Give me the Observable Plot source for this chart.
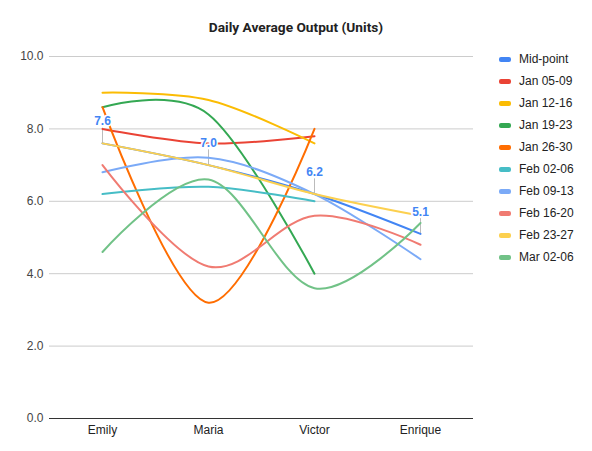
<!DOCTYPE html>
<html>
<head>
<meta charset="utf-8">
<script src="https://cdn.jsdelivr.net/npm/d3@7"></script>
<script src="https://cdn.jsdelivr.net/npm/@observablehq/plot@0.6"></script>
<style>
  body { margin: 0; background: #fff; }
  #wrap { position: relative; width: 592px; height: 451px; }
  #title {
    position: absolute; left: 0; top: 19px; width: 592px; text-align: center;
    font: bold 13.7px Roboto, sans-serif; color: #222;
  }
  #legend { position: absolute; left: 499px; top: 48px; font: 12px "Liberation Sans", Arial, sans-serif; color: #222; }
  #legend div { height: 22px; display: flex; align-items: center; }
  #legend span.sw { display: inline-block; width: 12px; height: 5px; border-radius: 2px; margin-right: 8px; }
  #vis { position: absolute; left: 0; top: 0; }
</style>
</head>
<body>
<div id="wrap">
  <div id="vis"></div>
  <div id="title">Daily Average Output (Units)</div>
  <div id="legend"></div>
</div>
<script>
const people = ["Emily", "Maria", "Victor", "Enrique"]
const seriesNames = ["Mid-point", "Jan 05-09", "Jan 12-16", "Jan 19-23", "Jan 26-30",
  "Feb 02-06", "Feb 09-13", "Feb 16-20", "Feb 23-27", "Mar 02-06"]
const seriesColors = ["#4285F4", "#EA4335", "#FBBC04", "#34A853", "#FF6D01",
  "#46BDC6", "#7BAAF7", "#F07B72", "#FCD04F", "#71C287"]
// one row per series, one value per person (null = no value)
const midpoint = [7.6, 7.0, 6.2, 5.1]
const jan0509 = [8.0, 7.6, 7.8, null]
const jan1216 = [9.0, 8.8, 7.6, null]
const jan1923 = [8.6, 8.4, 4.0, null]
const jan2630 = [8.6, 3.2, 8.0, null]
const feb0206 = [6.2, 6.4, 6.0, null]
const feb0913 = [6.8, 7.2, 6.2, 4.4]
const feb1620 = [7.0, 4.2, 5.6, 4.8]
const feb2327 = [7.6, 7.0, 6.2, 5.6]
const mar0206 = [4.6, 6.6, 3.6, 5.4]
const yTicks = [0, 2, 4, 6, 8, 10]

const allSeries = [midpoint, jan0509, jan1216, jan1923, jan2630, feb0206, feb0913, feb1620, feb2327, mar0206]

const rows = []
allSeries.forEach((vals, i) => {
  vals.forEach((v, j) => {
    if (v != null) rows.push({series: seriesNames[i], person: people[j], value: v})
  })
})
const midRows = rows.filter(d => d.series === "Mid-point")

const chart = Plot.plot({
  width: 592,
  height: 451,
  marginTop: 56,
  marginBottom: 33,
  marginLeft: 49,
  marginRight: 119,
  x: {type: "point", domain: people, padding: 0.5, label: null},
  y: {domain: [0, 10], label: null},
  color: {domain: seriesNames, range: seriesColors},
  style: {fontFamily: "'Liberation Sans', Arial, sans-serif", fontSize: "12px", color: "#444", background: "transparent"},
  marks: [
    Plot.gridY(yTicks, {stroke: "#cccccc", strokeOpacity: 1}),
    Plot.axisY(yTicks, {tickSize: 0, tickPadding: 6, tickFormat: d3.format(".1f"), fill: "#444", label: null}),
    Plot.axisX({tickSize: 0, tickPadding: 7, fill: "#222", label: null}),
    Plot.ruleX(midRows, {x: "person", y1: "value", y2: d => d.value + 0.42, stroke: "#bbbbbb", strokeWidth: 1}),
    Plot.line(rows, {x: "person", y: "value", z: "series", stroke: "series", strokeWidth: 2, curve: "cardinal"}),
    Plot.ruleY([0], {stroke: "#333333", strokeWidth: 1}),
    Plot.text(midRows, {x: "person", y: "value", text: d => d.value.toFixed(1), dy: -22,
      fill: "#4285F4", fontWeight: "bold", fontSize: 12, stroke: "white", strokeWidth: 3, paintOrder: "stroke"})
  ]
})
d3.select("#vis").append(() => chart)

const legend = d3.select("#legend")
seriesNames.forEach((name, i) => {
  const row = legend.append("div")
  row.append("span").attr("class", "sw").style("background", seriesColors[i])
  row.append("span").text(name)
})
</script>
</body>
</html>
